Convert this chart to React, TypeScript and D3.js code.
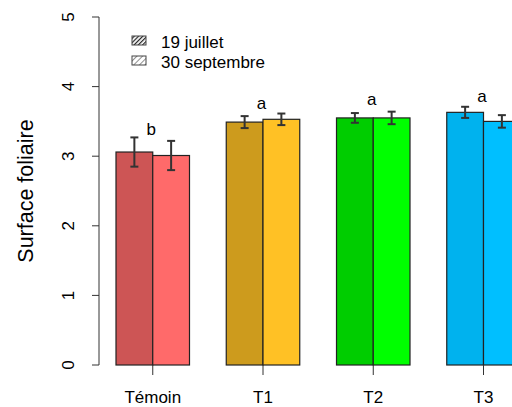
import React from "react";
import * as d3 from "d3";

const groups = ["Témoin", "T1", "T2", "T3"];
const seriesNames = ["19 juillet", "30 septembre"];
const julyValues = [3.06, 3.49, 3.55, 3.63];
const septValues = [3.01, 3.53, 3.55, 3.5];
const julyErr = [0.21, 0.086, 0.07, 0.08];
const septErr = [0.21, 0.083, 0.09, 0.09];
const letters = ["b", "a", "a", "a"];
const letterY = [3.3, 3.68, 3.74, 3.78];
const darkColors = ["#CD5555", "#CD9B1D", "#00CD00", "#00B2EE"];
const lightColors = ["#FF6A6A", "#FFC125", "#00FF00", "#00BFFF"];
const yTicks = [0, 1, 2, 3, 4, 5];

const W = 512;
const H = 407;
const font = "Liberation Sans, Arial, sans-serif";

const App: React.FC = () => {
  // R barplot units: bar width 1, one gap between groups
  const x = d3.scaleLinear().domain([0, 1]).range([79.25, 116]);
  const y = d3.scaleLinear().domain([0, 5]).range([365, 17]);
  const groupStart = (i: number) => 1 + 3 * i;

  const bars = groups.flatMap((g, i) => [
    { x0: groupStart(i), v: julyValues[i], e: julyErr[i], fill: darkColors[i] },
    { x0: groupStart(i) + 1, v: septValues[i], e: septErr[i], fill: lightColors[i] },
  ]);

  return (
    <svg width={W} height={H} style={{ position: "absolute", left: 0, top: 0 }}>
      <defs>
        <pattern id="dense" width="3" height="3" patternUnits="userSpaceOnUse" patternTransform="rotate(45)">
          <rect width="3" height="3" fill="#fff" />
          <line x1="0" y1="0" x2="0" y2="3" stroke="#222" strokeWidth="2.4" />
        </pattern>
        <pattern id="sparse" width="4" height="4" patternUnits="userSpaceOnUse" patternTransform="rotate(45)">
          <rect width="4" height="4" fill="#fff" />
          <line x1="0" y1="0" x2="0" y2="4" stroke="#444" strokeWidth="1.2" />
        </pattern>
      </defs>
      <rect width={W} height={H} fill="#fff" />

      {/* bars */}
      {bars.map((b, k) => (
        <rect
          key={k}
          x={x(b.x0)}
          y={y(b.v)}
          width={x(b.x0 + 1) - x(b.x0)}
          height={y(0) - y(b.v)}
          fill={b.fill}
          stroke="#222"
          strokeWidth={1.2}
        />
      ))}

      {/* error bars */}
      {bars.map((b, k) => {
        const cx = x(b.x0 + 0.5);
        return (
          <g key={k} stroke="#333" strokeWidth={2}>
            <line x1={cx} x2={cx} y1={y(b.v + b.e)} y2={y(b.v - b.e)} />
            <line x1={cx - 4} x2={cx + 4} y1={y(b.v + b.e)} y2={y(b.v + b.e)} />
            <line x1={cx - 4} x2={cx + 4} y1={y(b.v - b.e)} y2={y(b.v - b.e)} />
          </g>
        );
      })}

      {/* letters */}
      {groups.map((g, i) => (
        <text
          key={g}
          x={x(groupStart(i) + 1) - 1.5}
          y={y(letterY[i])}
          textAnchor="middle"
          fontFamily={font}
          fontSize={17}
          fill="#000"
        >
          {letters[i]}
        </text>
      ))}

      {/* y axis */}
      <line x1={99} x2={99} y1={y(0)} y2={y(5)} stroke="#333" strokeWidth={1} />
      {yTicks.map((t) => (
        <g key={t}>
          <line x1={92} x2={99} y1={y(t)} y2={y(t)} stroke="#333" />
          <text
            transform={`translate(${74},${y(t)}) rotate(-90)`}
            textAnchor="middle"
            fontFamily={font}
            fontSize={17}
            fill="#000"
          >
            {t}
          </text>
        </g>
      ))}
      <text
        transform={`translate(33,${(y(0) + y(5)) / 2}) rotate(-90)`}
        textAnchor="middle"
        fontFamily={font}
        fontSize={21.5}
        fill="#000"
      >
        Surface foliaire
      </text>

      {/* x axis ticks and labels */}
      {groups.map((g, i) => {
        const cx = x(groupStart(i) + 1);
        return (
          <g key={g}>
            <line x1={cx} x2={cx} y1={365} y2={375} stroke="#333" />
            <text x={cx} y={403} textAnchor="middle" fontFamily={font} fontSize={17} fill="#000">
              {g}
            </text>
          </g>
        );
      })}

      {/* legend */}
      {seriesNames.map((s, i) => (
        <g key={s}>
          <rect
            x={132}
            y={36 + i * 20}
            width={14}
            height={9}
            fill={i === 0 ? "url(#dense)" : "url(#sparse)"}
            stroke="#444"
            strokeWidth={1}
          />
          <text x={161} y={47.5 + i * 20} fontFamily={font} fontSize={17} fill="#000">
            {s}
          </text>
        </g>
      ))}
    </svg>
  );
};

export default App;
